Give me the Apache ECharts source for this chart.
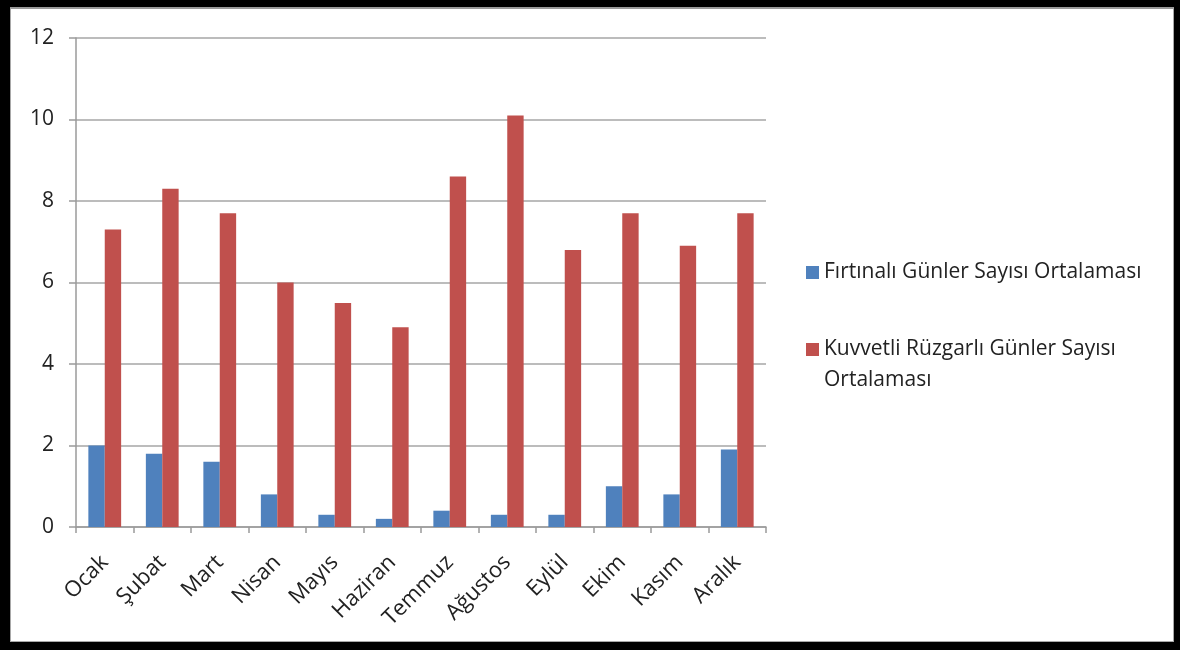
<!DOCTYPE html>
<html>
<head>
<meta charset="utf-8">
<script src="https://cdn.jsdelivr.net/npm/echarts@6/dist/echarts.min.js"></script>
<style>
html,body{margin:0;padding:0;width:1180px;height:650px;background:#000;overflow:hidden;}
#chart{position:absolute;left:10px;top:7px;width:1164px;height:635px;box-sizing:border-box;border:1px solid #a8a8a8;border-top:2px solid #9a9a9a;background:#fff;}
</style>
</head>
<body>
<div id="chart"></div>
<script>
const categories = ['Ocak','Şubat','Mart','Nisan','Mayıs','Haziran','Temmuz','Ağustos','Eylül','Ekim','Kasım','Aralık'];
const seriesNames = ['Fırtınalı Günler Sayısı Ortalaması','Kuvvetli Rüzgarlı Günler Sayısı Ortalaması'];
const stormyDays = [2.0,1.8,1.6,0.8,0.3,0.2,0.4,0.3,0.3,1.0,0.8,1.9];
const windyDays = [7.3,8.3,7.7,6.0,5.5,4.9,8.6,10.1,6.8,7.7,6.9,7.7];
const yTicks = {min:0,max:12,interval:2};

const chart = echarts.init(document.getElementById('chart'));
const font = '"Open Sans", sans-serif';
chart.setOption({
  animation:false,
  backgroundColor:'#fff',
  grid:{left:65,top:29,width:690,height:489,containLabel:false},
  legend:{
    orient:'vertical',left:790,top:243,
    itemWidth:13,itemHeight:13,itemGap:15,icon:'rect',
    data:seriesNames,
    formatter:function(n){
      if(n===seriesNames[1]) return '\nKuvvetli Rüzgarlı Günler Sayısı\nOrtalaması';
      return n;
    },
    textStyle:{fontFamily:font,fontSize:21,color:'#222',lineHeight:31}
  },
  xAxis:{
    type:'category',data:categories,
    axisLine:{lineStyle:{color:'#9a9a9a',width:1.5}},
    axisTick:{show:true,length:6,lineStyle:{color:'#9a9a9a',width:1.5}},
    axisLabel:{rotate:45,fontFamily:font,fontSize:22,color:'#222',margin:32,interval:0}
  },
  yAxis:{
    type:'value',min:yTicks.min,max:yTicks.max,interval:yTicks.interval,
    axisLine:{show:true,lineStyle:{color:'#9a9a9a',width:1.5}},
    axisTick:{show:true,length:7,lineStyle:{color:'#9a9a9a',width:1.5}},
    splitLine:{lineStyle:{color:'#a6a6a6',width:1.5}},
    axisLabel:{fontFamily:font,fontSize:21,color:'#222',margin:22}
  },
  series:[
    {name:seriesNames[0],type:'bar',data:stormyDays,barGap:'0%',barCategoryGap:'43%',itemStyle:{color:'#4f81bd'}},
    {name:seriesNames[1],type:'bar',data:windyDays,barGap:'0%',barCategoryGap:'43%',itemStyle:{color:'#c0504d'}}
  ]
});
</script>
</body>
</html>
